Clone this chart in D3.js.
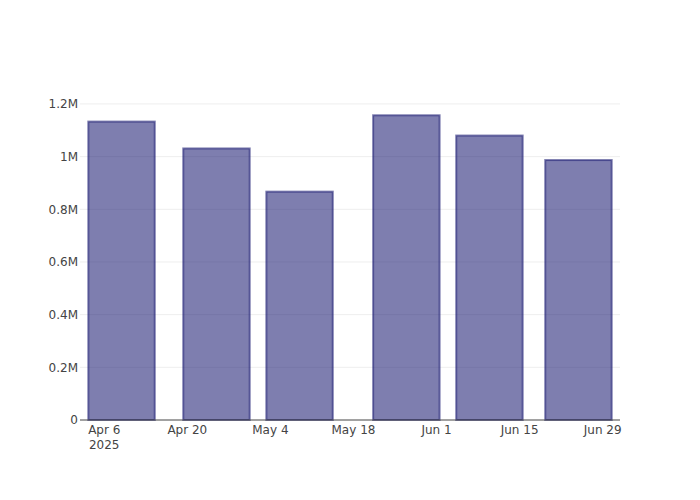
<!DOCTYPE html>
<html>
<head>
<meta charset="utf-8">
<script src="https://cdn.jsdelivr.net/npm/d3@7"></script>
<style>
  body { margin: 0; background: #fff; }
  svg { display: block; font-family: "DejaVu Sans", sans-serif; }
</style>
</head>
<body>
<svg id="chart" width="700" height="500"></svg>
<script>
const dates = ["2025-04-09", "2025-04-25", "2025-05-09", "2025-05-27", "2025-06-10", "2025-06-25"];
const values = [1133000, 1031000, 867000, 1157000, 1080000, 987000];
const yTicks = [0, 200000, 400000, 600000, 800000, 1000000, 1200000];
const yTickLabels = ["0", "0.2M", "0.4M", "0.6M", "0.8M", "1M", "1.2M"];
const xTicks = ["2025-04-06", "2025-04-20", "2025-05-04", "2025-05-18", "2025-06-01", "2025-06-15", "2025-06-29"];
const xTickLabels = ["Apr 6", "Apr 20", "May 4", "May 18", "Jun 1", "Jun 15", "Jun 29"];
const xDomain = ["2025-04-02", "2025-07-02"];
const yMax = 1215000;

const parse = d3.utcParse("%Y-%m-%d");
const margin = {l: 80, r: 80, t: 100, b: 80};
const W = 700, H = 500;
const svg = d3.select("#chart");
const FONT = "'DejaVu Sans', sans-serif";

const x = d3.scaleUtc().domain(xDomain.map(parse)).range([margin.l, W - margin.r]);
const y = d3.scaleLinear().domain([0, yMax]).range([H - margin.b, margin.t]);

const barDays = 14 * 0.8;
const dayMs = 86400000;

// gridlines
svg.append("g").selectAll("line").data(yTicks.slice(1)).join("line")
  .attr("x1", margin.l).attr("x2", W - margin.r)
  .attr("y1", d => y(d)).attr("y2", d => y(d))
  .attr("stroke", "#eee").attr("stroke-width", 1);

// bars
svg.append("g").selectAll("rect").data(dates.map((d, i) => ({d: parse(d), v: values[i]}))).join("rect")
  .attr("x", d => x(new Date(+d.d - barDays / 2 * dayMs)))
  .attr("width", d => x(new Date(+d.d + barDays / 2 * dayMs)) - x(new Date(+d.d - barDays / 2 * dayMs)))
  .attr("y", d => y(d.v))
  .attr("height", d => y(0) - y(d.v))
  .attr("fill", "midnightblue").attr("fill-opacity", 0.56)
  .attr("stroke", "midnightblue").attr("stroke-opacity", 0.56).attr("stroke-width", 2);

// x axis line
svg.append("line")
  .attr("x1", margin.l).attr("x2", W - margin.r)
  .attr("y1", y(0)).attr("y2", y(0))
  .attr("stroke", "#444").attr("stroke-width", 1);

// y axis
const yAxis = d3.axisLeft(y).tickValues(yTicks).tickFormat((d, i) => yTickLabels[i]).tickSize(0).tickPadding(2);
const gy = svg.append("g").attr("transform", `translate(${margin.l},0)`).call(yAxis);
gy.select(".domain").remove();
gy.selectAll("text").attr("font-family", FONT).attr("font-size", 12).attr("fill", "#444");

// x axis
const xAxis = d3.axisBottom(x).tickValues(xTicks.map(parse)).tickFormat((d, i) => xTickLabels[i]).tickSize(0);
const gx = svg.append("g").attr("transform", `translate(0,${y(0)})`).call(xAxis);
gx.select(".domain").remove();
gx.selectAll("text").attr("font-family", FONT).attr("font-size", 12).attr("fill", "#444")
  .attr("y", 14).attr("dy", null);
gx.selectAll(".tick").filter((d, i) => i === 0).append("text")
  .attr("y", 29).attr("text-anchor", "middle")
  .attr("font-family", FONT).attr("font-size", 12).attr("fill", "#444")
  .text("2025");
</script>
</body>
</html>
